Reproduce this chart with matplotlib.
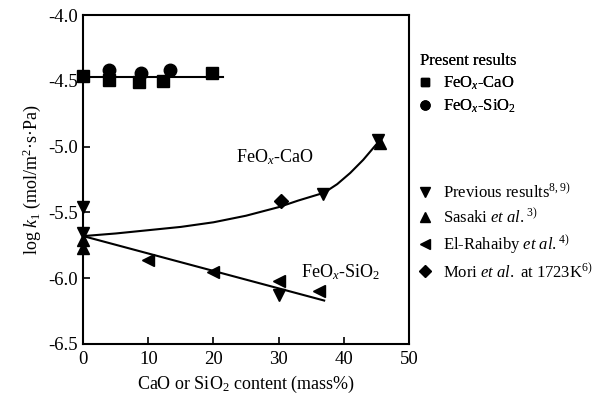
import numpy as np
import matplotlib
matplotlib.use("Agg")
import matplotlib.pyplot as plt
from matplotlib.lines import Line2D

plt.rcParams['font.family'] = ['Liberation Serif', 'DejaVu Serif']
plt.rcParams['mathtext.fontset'] = 'custom'
plt.rcParams['mathtext.rm'] = 'Liberation Serif'
plt.rcParams['mathtext.it'] = 'Liberation Serif:italic'
plt.rcParams['font.size'] = 12

# === Present results ===
cao_x = [0, 4, 8.5, 12.3, 19.8]
cao_y = [-4.46, -4.49, -4.51, -4.50, -4.44]
sio2_x = [3.9, 8.8, 13.4]
sio2_y = [-4.42, -4.44, -4.42]
present_fit_x = [0, 21.5]
present_fit_y = [-4.47, -4.47]

# === Literature ===
prev_x = [0, 0, 30, 36.8, 45.2]
prev_y = [-5.46, -5.66, -6.13, -5.36, -4.95]
sasaki_x = [0, 0, 45.5]
sasaki_y = [-5.71, -5.77, -4.97]
elr_x = [10, 20, 30, 36.2]
elr_y = [-5.86, -5.95, -6.02, -6.10]
mori_x = [30.3]
mori_y = [-5.41]

# fitted curves
cao_curve_x = [0, 5, 10, 15, 20, 25, 30, 33, 37, 39, 41, 43, 45.4]
cao_curve_y = [-5.68, -5.66, -5.635, -5.61, -5.575, -5.525, -5.46, -5.41, -5.35, -5.285, -5.20, -5.10, -4.96]
sio2_line_x = [0, 37]
sio2_line_y = [-5.68, -6.17]

fig = plt.figure(figsize=(6.12, 3.99), dpi=100)
ax = fig.add_axes([0.136, 0.138, 0.532, 0.824])

ax.plot(present_fit_x, present_fit_y, color='black', lw=1.5)
ax.plot(cao_curve_x, cao_curve_y, color='black', lw=1.5)
ax.plot(sio2_line_x, sio2_line_y, color='black', lw=1.5)

ms = 8
ax.plot(cao_x, cao_y, 's', color='black', ms=ms, clip_on=False, zorder=5)
ax.plot(sio2_x, sio2_y, 'o', color='black', ms=ms + 1, clip_on=False, zorder=5)
ax.plot(prev_x, prev_y, 'v', color='black', ms=ms, clip_on=False, zorder=5)
ax.plot(sasaki_x, sasaki_y, '^', color='black', ms=ms, clip_on=False, zorder=5)
ax.plot(elr_x, elr_y, '<', color='black', ms=ms, clip_on=False, zorder=5)
ax.plot(mori_x, mori_y, 'D', color='black', ms=ms - 1, clip_on=False, zorder=5)

ax.text(23.5, -5.12, 'FeO$_{x}$-CaO', fontsize=13)
ax.text(33.5, -5.99, 'FeO$_{x}$-SiO$_{2}$', fontsize=13)

ax.set_xlim(0, 50)
ax.set_ylim(-6.5, -4.0)
ax.set_xticks([0, 10, 20, 30, 40, 50])
ax.set_yticks([-6.5, -6.0, -5.5, -5.0, -4.5, -4.0])
ax.set_yticklabels(['-6.5', '-6.0', '-5.5', '-5.0', '-4.5', '-4.0'])
ax.tick_params(direction='in', length=5, width=1.2, labelsize=13.5)
ax.tick_params(axis='x', pad=5)
for s in ax.spines.values():
    s.set_linewidth(1.5)

ax.set_xlabel('CaO or SiO$_2$ content (mass%)', fontsize=13)
ax.set_ylabel('log $k_1$ (mol/m$^2$·s·Pa)', fontsize=13)

# === Legends ===
h1 = [Line2D([], [], ls='none', marker='s', color='black', ms=6),
      Line2D([], [], ls='none', marker='o', color='black', ms=6.5)]
leg1 = fig.legend(h1, ['FeO$_{x}$-CaO', 'FeO$_{x}$-SiO$_{2}$'], title='Present results',
                  loc='upper left', bbox_to_anchor=(0.672, 0.887), frameon=False,
                  fontsize=12, title_fontsize=12, handlelength=0.6, handletextpad=0.8,
                  labelspacing=0.32, borderpad=0)
leg1._legend_box.align = 'left'
leg1._legend_box.sep = 4

h2 = [Line2D([], [], ls='none', marker='v', color='black', ms=7),
      Line2D([], [], ls='none', marker='^', color='black', ms=7),
      Line2D([], [], ls='none', marker='<', color='black', ms=7),
      Line2D([], [], ls='none', marker='D', color='black', ms=6)]
labels2 = ['Previous results$^{8,9)}$', 'Sasaki $et\\ al.$$^{3)}$',
           'El-Rahaiby $et\\ al.$$^{4)}$', 'Mori $et\\ al.$ at 1723K$^{6)}$']
fig.legend(h2, labels2, loc='upper left', bbox_to_anchor=(0.672, 0.563), frameon=False,
           fontsize=12, handlelength=0.6, handletextpad=0.8, labelspacing=0.38, borderpad=0)
fig.add_artist(leg1)

fig.savefig('out.png', dpi=100)
